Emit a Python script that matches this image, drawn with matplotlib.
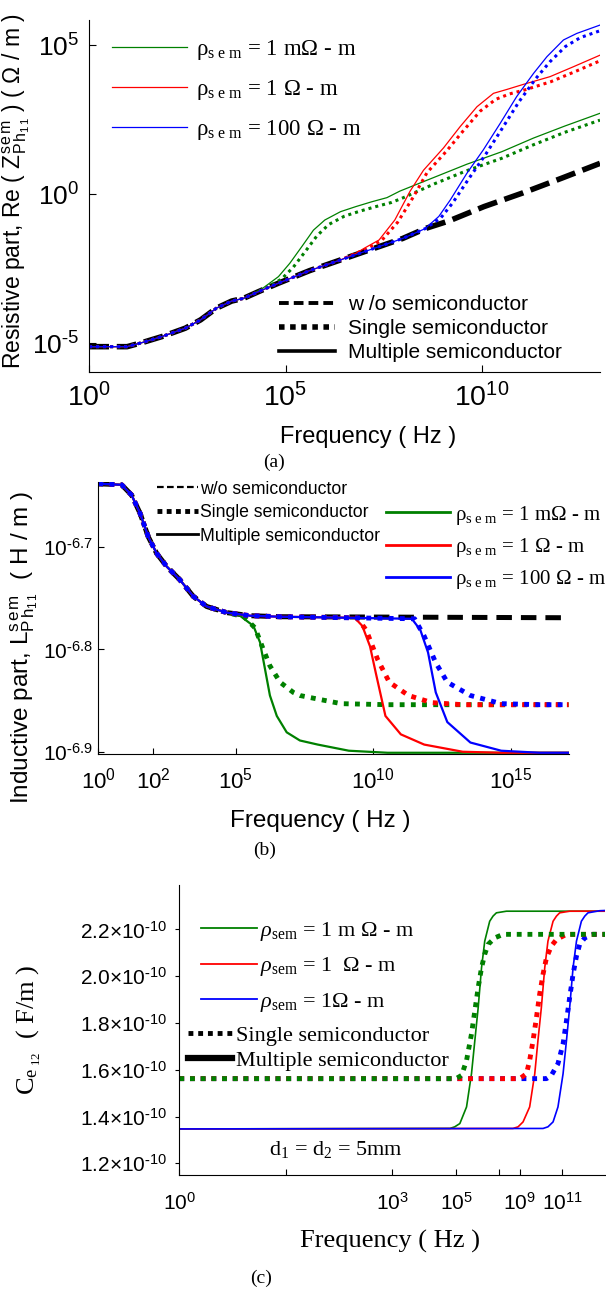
import numpy as np
import matplotlib
matplotlib.use('Agg')
import matplotlib.pyplot as plt
from matplotlib.lines import Line2D

plt.rcParams['font.family'] = ['Liberation Sans', 'DejaVu Sans']
plt.rcParams['mathtext.fontset'] = 'custom'
plt.rcParams['mathtext.rm'] = 'Liberation Serif'
plt.rcParams['mathtext.it'] = 'Liberation Serif:italic'
plt.rcParams['mathtext.bf'] = 'Liberation Serif:bold'
plt.rcParams['mathtext.sf'] = 'Liberation Sans'

GREEN, RED, BLUE = '#008000', '#ff0000', '#0000ff'
SERIF = ['Liberation Serif', 'DejaVu Serif']
SANS = ['Liberation Sans', 'DejaVu Sans']

# ---------------- data: panel (a)  (log10 f [Hz], log10 R [ohm/m]) ----------------
A_BASE_LOGF = [0.00, 0.97, 1.36, 1.86, 2.45, 2.84, 3.24, 3.63, 3.93, 4.32, 4.82, 5.61, 6.40,
               7.19, 7.98, 8.57, 9.16, 10.05, 11.04, 12.02, 13.00]
A_BASE_LOGR = [-5.12, -5.12, -4.98, -4.78, -4.50, -4.22, -3.83, -3.59, -3.50, -3.27, -2.99, -2.57,
               -2.21, -1.85, -1.49, -1.15, -0.90, -0.42, 0.04, 0.53, 1.03]
A_G_MULTI_LOGF = [4.03, 4.42, 4.82, 5.11, 5.41, 5.71, 6.00, 6.40, 6.79, 7.19, 7.58, 7.91, 8.76,
                  9.61, 10.50, 11.31, 12.10, 13.00]
A_G_MULTI_LOGR = [-3.44, -3.16, -2.77, -2.32, -1.77, -1.21, -0.87, -0.59, -0.42, -0.26, -0.12,
                  0.10, 0.55, 1.00, 1.42, 1.88, 2.28, 2.71]
A_G_SINGLE_LOGF = [4.10, 4.50, 4.90, 5.20, 5.50, 5.80, 6.10, 6.50, 6.90, 7.30, 7.70, 8.00, 8.80,
                   9.60, 10.50, 11.30, 12.10, 13.00]
A_G_SINGLE_LOGR = [-3.40, -3.16, -2.85, -2.45, -1.93, -1.40, -1.02, -0.74, -0.57, -0.42, -0.28,
                   -0.12, 0.35, 0.78, 1.20, 1.65, 2.07, 2.48]
A_R_MULTI_LOGF = [6.80, 7.00, 7.38, 7.78, 8.17, 8.51, 9.02, 9.44, 9.87, 10.29, 10.63, 11.05,
                  11.73, 12.32, 13.00]
A_R_MULTI_LOGR = [-1.98, -1.82, -1.54, -0.87, 0.10, 0.80, 1.55, 2.26, 2.93, 3.38, 3.51, 3.68,
                  3.94, 4.27, 4.66]
A_R_SINGLE_LOGF = [6.80, 7.05, 7.45, 7.85, 8.25, 8.60, 9.10, 9.52, 9.95, 10.35, 10.70, 11.10,
                   11.75, 12.35, 13.00]
A_R_SINGLE_LOGR = [-1.98, -1.85, -1.55, -0.95, -0.10, 0.72, 1.45, 2.12, 2.78, 3.18, 3.36, 3.50,
                   3.77, 4.10, 4.47]
A_B_MULTI_LOGF = [8.60, 8.90, 9.19, 9.61, 10.03, 10.46, 10.88, 11.31, 11.65, 12.07, 12.41, 13.00]
A_B_MULTI_LOGR = [-1.10, -0.75, -0.20, 0.69, 1.48, 2.37, 3.27, 4.05, 4.61, 5.17, 5.39, 5.67]
A_B_SINGLE_LOGF = [8.60, 8.95, 9.25, 9.68, 10.10, 10.52, 10.94, 11.37, 11.72, 12.12, 12.50, 13.00]
A_B_SINGLE_LOGR = [-1.12, -0.80, -0.30, 0.55, 1.35, 2.22, 3.10, 3.88, 4.43, 4.95, 5.25, 5.48]

# ---------------- data: panel (b)  (log10 f [Hz], log10 L [H/m]) ----------------
B_BASE_LOGF = [0.00, 0.85, 1.21, 1.52, 1.82, 2.12, 2.49, 2.97, 3.45, 3.94, 4.67, 5.52, 6.60, 17.10]
B_BASE_LOGL = [-6.638, -6.639, -6.649, -6.667, -6.690, -6.706, -6.719, -6.732, -6.748, -6.758,
               -6.764, -6.767, -6.768, -6.769]
B_G_MULTI_LOGF = [5.15, 5.64, 5.88, 6.06, 6.24, 6.49, 6.85, 7.33, 7.98, 9.11, 10.52, 17.10]
B_G_MULTI_LOGL = [-6.767, -6.777, -6.793, -6.819, -6.845, -6.865, -6.881, -6.889, -6.893, -6.899,
                  -6.901, -6.901]
B_G_SINGLE_LOGF = [5.30, 5.70, 6.00, 6.24, 6.61, 7.09, 7.33, 7.70, 8.83, 10.52, 17.10]
B_G_SINGLE_LOGL = [-6.768, -6.779, -6.800, -6.816, -6.832, -6.842, -6.845, -6.847, -6.853, -6.854,
                   -6.854]
B_R_MULTI_LOGF = [9.32, 9.60, 9.88, 10.09, 10.44, 11.00, 11.85, 13.25, 14.65, 17.10]
B_R_MULTI_LOGL = [-6.769, -6.777, -6.797, -6.823, -6.865, -6.883, -6.893, -6.900, -6.901, -6.901]
B_R_SINGLE_LOGF = [9.40, 9.74, 10.16, 10.58, 11.28, 12.13, 13.25, 17.10]
B_R_SINGLE_LOGL = [-6.769, -6.781, -6.810, -6.832, -6.845, -6.852, -6.854, -6.854]
B_B_MULTI_LOGF = [11.40, 11.71, 11.99, 12.27, 12.69, 13.53, 14.65, 16.05, 17.10]
B_B_MULTI_LOGL = [-6.770, -6.781, -6.803, -6.842, -6.871, -6.891, -6.899, -6.901, -6.901]
B_B_SINGLE_LOGF = [11.50, 11.85, 12.27, 12.69, 13.53, 14.65, 16.05, 17.10]
B_B_SINGLE_LOGL = [-6.770, -6.787, -6.813, -6.832, -6.845, -6.853, -6.854, -6.854]

# ---------------- data: panel (c)  (log10 f [Hz], C [1e-10 F/m]) ----------------
C_G_MULTI_LOGF = [0.00, 4.81, 4.96, 5.24, 5.66, 5.97, 6.18, 6.39, 6.60, 6.80, 7.11, 7.32, 7.53,
                  8.16, 13.00]
C_G_MULTI_VAL = [1.347, 1.349, 1.356, 1.370, 1.441, 1.583, 1.725, 1.866, 2.037, 2.150, 2.235,
                 2.257, 2.271, 2.278, 2.278]
C_G_SINGLE_LOGF = [0.00, 5.00, 5.35, 5.66, 5.97, 6.18, 6.39, 6.60, 6.80, 7.01, 7.43, 7.95, 13.00]
C_G_SINGLE_VAL = [1.562, 1.562, 1.576, 1.640, 1.753, 1.852, 1.952, 2.037, 2.094, 2.136, 2.164,
                  2.179, 2.179]
C_R_MULTI_LOGF = [0.00, 8.57, 8.89, 9.15, 9.46, 9.70, 9.85, 10.01, 10.17, 10.32, 10.56, 10.72,
                  10.87, 11.34, 13.00]
C_R_MULTI_VAL = [1.347, 1.349, 1.356, 1.377, 1.441, 1.583, 1.725, 1.866, 2.037, 2.150, 2.235,
                 2.257, 2.271, 2.278, 2.278]
C_R_SINGLE_LOGF = [0.00, 9.00, 9.31, 9.46, 9.62, 9.78, 9.93, 10.09, 10.25, 10.48, 10.72, 11.19,
                   13.00]
C_R_SINGLE_VAL = [1.562, 1.562, 1.583, 1.640, 1.725, 1.824, 1.923, 2.009, 2.079, 2.129, 2.157,
                  2.179, 2.179]
C_B_MULTI_LOGF = [0.00, 10.09, 10.32, 10.56, 10.79, 11.03, 11.19, 11.34, 11.50, 11.66, 11.89,
                  12.05, 12.20, 12.75, 13.00]
C_B_MULTI_VAL = [1.347, 1.349, 1.356, 1.377, 1.441, 1.583, 1.725, 1.866, 2.037, 2.150, 2.235,
                 2.257, 2.271, 2.280, 2.281]
C_B_SINGLE_LOGF = [0.00, 10.25, 10.48, 10.79, 11.03, 11.19, 11.34, 11.50, 11.66, 11.81, 12.05,
                   12.44, 13.00]
C_B_SINGLE_VAL = [1.562, 1.562, 1.576, 1.626, 1.711, 1.810, 1.909, 2.009, 2.086, 2.136, 2.164,
                  2.179, 2.179]

# tick labels
A_XTICK_EXP = [0, 5, 10]
A_YTICK_EXP = [-5, 0, 5]
B_XTICK_EXP = [0, 2, 5, 10, 15]
B_YTICK_EXP = [-6.9, -6.8, -6.7]
C_XTICK_EXP = [0, 3, 5, 9, 11]
C_YTICKS = [1.2, 1.4, 1.6, 1.8, 2.0, 2.2]

LEG_COLOR_A = ['ρ$_{\\mathrm{s\\ e\\ m}}$ = 1 mΩ - m', 'ρ$_{\\mathrm{s\\ e\\ m}}$ = 1 Ω - m',
               'ρ$_{\\mathrm{s\\ e\\ m}}$ = 100 Ω - m']
LEG_BLACK_A = ['w /o semiconductor', 'Single semiconductor', 'Multiple semiconductor']
LEG_BLACK_B = ['w/o semiconductor', 'Single semiconductor', 'Multiple semiconductor']
LEG_COLOR_C = ['$\\rho_{\\mathrm{sem}}$ = 1 m Ω - m', '$\\rho_{\\mathrm{sem}}$ = 1  Ω - m',
               '$\\rho_{\\mathrm{sem}}$ = 1Ω - m']
LEG_BLACK_C = ['Single semiconductor', 'Multiple semiconductor']


def pow_label(e):
    """10^e with a plain hyphen for negative exponents."""
    s = ('%g' % e)
    if s.startswith('-'):
        s = '\\text{-}' + s[1:]
    return '$\\mathsf{10^{%s}}$' % s


def join(base_f, base_v, f, v):
    """prepend the shared low-frequency part of the curve (points below f[0])."""
    bf = np.asarray(base_f)
    bv = np.asarray(base_v)
    m = bf < f[0]
    return np.concatenate([bf[m], f]), np.concatenate([bv[m], v])


W, H = 606, 1290
fig = plt.figure(figsize=(W / 100, H / 100), dpi=100)


def ax_px(l, r, t, b):
    return fig.add_axes([l / W, 1 - b / H, (r - l) / W, (b - t) / H])


def style_axes(ax):
    ax.spines['top'].set_visible(False)
    ax.spines['right'].set_visible(False)
    for s in ('left', 'bottom'):
        ax.spines[s].set_linewidth(0.8)
    ax.minorticks_off()


# ======================= panel (a) =======================
axa = ax_px(89, 600, 20, 372)
axa.set_xscale('log')
axa.set_yscale('log')
DASH_A = (0, (3.6, 1.4))
DOT_A = (0, (1, 1.3))
axa.plot(10 ** np.array(A_BASE_LOGF), 10 ** np.array(A_BASE_LOGR), color='k', lw=4, ls=DASH_A)
for col, fs, vs, fm, vm in [
        (GREEN, A_G_SINGLE_LOGF, A_G_SINGLE_LOGR, A_G_MULTI_LOGF, A_G_MULTI_LOGR),
        (RED, A_R_SINGLE_LOGF, A_R_SINGLE_LOGR, A_R_MULTI_LOGF, A_R_MULTI_LOGR),
        (BLUE, A_B_SINGLE_LOGF, A_B_SINGLE_LOGR, A_B_MULTI_LOGF, A_B_MULTI_LOGR)]:
    f, v = join(A_BASE_LOGF, A_BASE_LOGR, fs, vs)
    axa.plot(10 ** f, 10 ** v, color=col, lw=2.2, ls=DOT_A)
    f, v = join(A_BASE_LOGF, A_BASE_LOGR, fm, vm)
    axa.plot(10 ** f, 10 ** v, color=col, lw=0.9)
axa.set_xlim(1, 1e13)
axa.set_ylim(10 ** -5.97, 10 ** 5.84)
style_axes(axa)
axa.set_xticks([10.0 ** e for e in A_XTICK_EXP])
axa.set_xticklabels([pow_label(e) for e in A_XTICK_EXP])
axa.set_yticks([10.0 ** e for e in A_YTICK_EXP])
axa.set_yticklabels([pow_label(e) for e in A_YTICK_EXP])
axa.minorticks_off()
axa.tick_params(direction='in', length=5, width=0.8)
axa.tick_params(axis='x', pad=8, labelsize=20.5)
axa.tick_params(axis='y', pad=7, labelsize=19)

h_col = [Line2D([], [], color=c, lw=0.9) for c in (GREEN, RED, BLUE)]
leg1 = axa.legend(h_col, LEG_COLOR_A, loc='upper left', bbox_to_anchor=(0.045, 0.948),
                  frameon=False, borderpad=0, borderaxespad=0, handlelength=3.27,
                  handletextpad=0.39, labelspacing=0.69,
                  prop={'family': SERIF, 'size': 16.5})
axa.add_artist(leg1)
h_blk = [Line2D([], [], color='k', lw=2.8, ls=(0, (2.5, 1.3))),
         Line2D([], [], color='k', lw=4, ls=(0, (1, 1))),
         Line2D([], [], color='k', lw=2.6)]
leg2 = axa.legend(h_blk, LEG_BLACK_A, loc='upper left', bbox_to_anchor=(0.372, 0.218),
                  frameon=False, borderpad=0, borderaxespad=0, handlelength=2.7,
                  handletextpad=0.62, labelspacing=0.24,
                  prop={'family': SANS, 'size': 15})

fig.text(21 / W, 1 - 191 / H,
         'Resistive part, Re ( $\\mathsf{Z^{s\\,e\\,m}_{P\\,h_{1\\,1}}}$ ) ( Ω / m )',
         rotation=90, rotation_mode='anchor', ha='center', va='baseline',
         fontsize=16.5, family=SANS)
fig.text(368 / W, 1 - 443 / H, 'Frequency ( Hz )', ha='center', va='baseline',
         fontsize=17, family=SANS)
fig.text(274 / W, 1 - 467 / H, '(a)', ha='center', va='baseline', fontsize=14, family=SERIF)

# ======================= panel (b) =======================
axb = ax_px(98.3, 568.6, 481.7, 754.3)
axb.set_xscale('log')
axb.set_yscale('log')
DASH_B = (0, (3.1, 1.8))
DOT_B = (0, (1, 1.3))
axb.plot(10 ** np.array(B_BASE_LOGF), 10 ** np.array(B_BASE_LOGL), color='k', lw=3.6, ls=DASH_B)
for col, fs, vs, fm, vm in [
        (GREEN, B_G_SINGLE_LOGF, B_G_SINGLE_LOGL, B_G_MULTI_LOGF, B_G_MULTI_LOGL),
        (RED, B_R_SINGLE_LOGF, B_R_SINGLE_LOGL, B_R_MULTI_LOGF, B_R_MULTI_LOGL),
        (BLUE, B_B_SINGLE_LOGF, B_B_SINGLE_LOGL, B_B_MULTI_LOGF, B_B_MULTI_LOGL)]:
    f, v = join(B_BASE_LOGF, B_BASE_LOGL, fs, vs)
    axb.plot(10 ** f, 10 ** v, color=col, lw=3.5, ls=DOT_B)
    f, v = join(B_BASE_LOGF, B_BASE_LOGL, fm, vm)
    axb.plot(10 ** f, 10 ** v, color=col, lw=1.6)
axb.set_xlim(1, 10 ** 17.1)
axb.set_ylim(10 ** -6.9025, 10 ** -6.636)
style_axes(axb)
axb.set_xticks([10.0 ** e for e in B_XTICK_EXP])
axb.set_xticklabels([pow_label(e) for e in B_XTICK_EXP])
axb.set_yticks([10.0 ** e for e in B_YTICK_EXP])
axb.set_yticklabels([pow_label(e) for e in B_YTICK_EXP])
axb.minorticks_off()
axb.tick_params(direction='in', length=4, width=0.8)
axb.tick_params(axis='x', pad=9.5, labelsize=16)
axb.tick_params(axis='y', pad=4, labelsize=15)

h_blk_b = [Line2D([], [], color='k', lw=1.6, ls=(0, (3, 1.5))),
           Line2D([], [], color='k', lw=3.5, ls=(0, (1, 0.9))),
           Line2D([], [], color='k', lw=2.0)]
leg3 = axb.legend(h_blk_b, LEG_BLACK_B, loc='upper left', bbox_to_anchor=(0.125, 1.004),
                  frameon=False, borderpad=0, borderaxespad=0, handlelength=2.33,
                  handletextpad=0.1, labelspacing=0.37,
                  prop={'family': SANS, 'size': 12.7})
axb.add_artist(leg3)
h_col_b = [Line2D([], [], color=c, lw=2.0) for c in (GREEN, RED, BLUE)]
leg4 = axb.legend(h_col_b, LEG_COLOR_A, loc='upper left', bbox_to_anchor=(0.612, 0.920),
                  frameon=False, borderpad=0, borderaxespad=0, handlelength=3.08,
                  handletextpad=0.24, labelspacing=0.45,
                  prop={'family': SERIF, 'size': 15})

fig.text(29 / W, 1 - 648 / H,
         'Inductive part, $\\mathsf{L^{s\\,e\\,m}_{P\\,h_{1\\,1}}}$  ( H / m )',
         rotation=90, rotation_mode='anchor', ha='center', va='baseline',
         fontsize=17.5, family=SANS)
fig.text(320 / W, 1 - 827 / H, 'Frequency ( Hz )', ha='center', va='baseline',
         fontsize=17.5, family=SANS)
fig.text(265 / W, 1 - 855 / H, '(b)', ha='center', va='baseline', fontsize=14, family=SERIF)

# ======================= panel (c) =======================
C_LOGF_KNOTS = np.array([0.0, 3.0, 5.0, 9.0, 11.0, 13.0])
C_POS_KNOTS = np.array([0.0, 10.0, 13.0, 16.0, 18.0, 20.0])


def c_forward(f):
    f = np.asarray(f, dtype=float)
    lf = np.log10(np.where(f > 0, f, 1e-300))
    p = np.interp(lf, C_LOGF_KNOTS, C_POS_KNOTS)
    p = np.where(lf > 13, 20 + (lf - 13), p)
    p = np.where(lf < 0, lf * 10 / 3, p)
    return p


def c_inverse(p):
    p = np.asarray(p, dtype=float)
    lf = np.interp(p, C_POS_KNOTS, C_LOGF_KNOTS)
    lf = np.where(p > 20, 13 + (p - 20), lf)
    lf = np.where(p < 0, p * 3 / 10, lf)
    return 10 ** lf


axc = ax_px(179.3, 605, 885, 1175)
axc.set_xscale('function', functions=(c_forward, c_inverse))
DOT_C = (0, (1, 1.2))
for col, f, v in [(GREEN, C_G_MULTI_LOGF, C_G_MULTI_VAL), (RED, C_R_MULTI_LOGF, C_R_MULTI_VAL),
                  (BLUE, C_B_MULTI_LOGF, C_B_MULTI_VAL)]:
    axc.plot(10 ** np.array(f), np.array(v) * 1e-10, color=col, lw=1.2)
for col, f, v in [(BLUE, C_B_SINGLE_LOGF, C_B_SINGLE_VAL), (RED, C_R_SINGLE_LOGF, C_R_SINGLE_VAL),
                  (GREEN, C_G_SINGLE_LOGF, C_G_SINGLE_VAL)]:
    axc.plot(10 ** np.array(f), np.array(v) * 1e-10, color=col, lw=3.5, ls=DOT_C)
axc.set_xlim(1, 1e13)
axc.set_ylim(1.15e-10, 2.39e-10)
style_axes(axc)
axc.set_xticks([10.0 ** e for e in C_XTICK_EXP])
axc.set_xticklabels([pow_label(e) for e in C_XTICK_EXP])
axc.set_xticks([c_inverse(5.0), c_inverse(15.0)], minor=True)
axc.set_yticks([v * 1e-10 for v in C_YTICKS])
axc.set_yticklabels(['$\\mathsf{%.1f{\\times}10^{\\text{-}10}}$' % v for v in C_YTICKS])
axc.tick_params(axis='x', which='both', direction='in', length=4, width=0.8, labelsize=15, pad=12)
axc.tick_params(axis='y', direction='out', length=3, width=0.8, labelsize=15, pad=6)

h_col_c = [Line2D([], [], color=c, lw=1.3) for c in (GREEN, RED, BLUE)]
leg5 = axc.legend(h_col_c, LEG_COLOR_C, loc='upper left', bbox_to_anchor=(0.052, 0.880),
                  frameon=False, borderpad=0, borderaxespad=0, handlelength=2.48,
                  handletextpad=0.15, labelspacing=0.57,
                  prop={'family': SERIF, 'size': 16})
axc.add_artist(leg5)
h_blk_c = [Line2D([], [], color='k', lw=3.5, ls=(0, (1, 1))),
           Line2D([], [], color='k', lw=4.5)]
leg6 = axc.legend(h_blk_c, LEG_BLACK_C, loc='upper left', bbox_to_anchor=(0.0204, 0.516),
                  frameon=False, borderpad=0, borderaxespad=0, handlelength=2.0,
                  handletextpad=0.18, labelspacing=0.2,
                  prop={'family': SERIF, 'size': 16})

fig.text(269 / W, 1 - 1155 / H, 'd$_1$ = d$_2$ = 5mm', ha='left', va='baseline',
         fontsize=16, family=SERIF)
fig.text(35 / W, 1 - 1030 / H, '$\\mathrm{C_{e_{\\ 12}}}$  ( F/m )',
         rotation=90, rotation_mode='anchor', ha='center', va='baseline',
         fontsize=19, family=SERIF)
fig.text(390 / W, 1 - 1248 / H, 'Frequency ( Hz )', ha='center', va='baseline',
         fontsize=19, family=SERIF)
fig.text(261 / W, 1 - 1283 / H, '(c)', ha='center', va='baseline', fontsize=14, family=SERIF)

fig.savefig('out.png', dpi=100)
